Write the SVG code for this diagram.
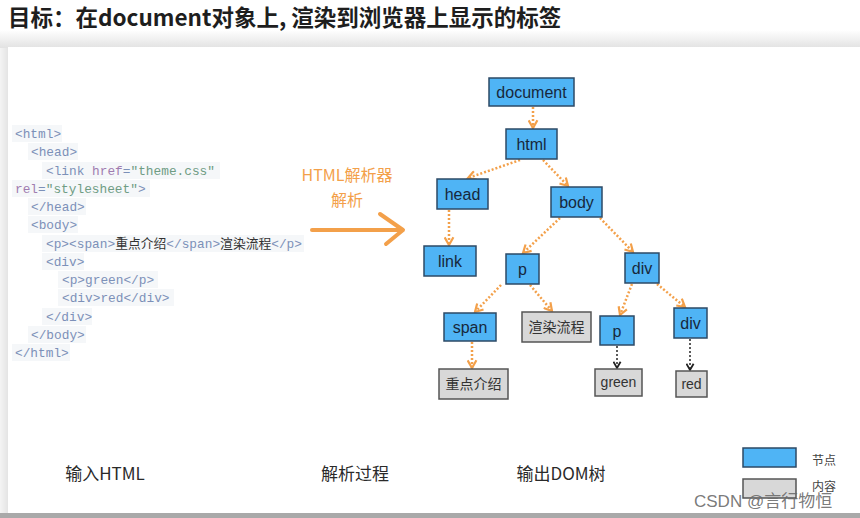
<svg xmlns="http://www.w3.org/2000/svg" width="860" height="518" viewBox="0 0 860 518">
<defs>
<linearGradient id="topShade" x1="0" y1="0" x2="0" y2="1">
<stop offset="0" stop-color="#ffffff"/>
<stop offset="1" stop-color="#e2e2e2"/>
</linearGradient>
<linearGradient id="leftShade" x1="0" y1="0" x2="1" y2="0">
<stop offset="0" stop-color="#f4f4f4"/>
<stop offset="1" stop-color="#e4e4e4"/>
</linearGradient>
<marker id="arrO" viewBox="0 0 10 10" refX="8" refY="5" markerWidth="11" markerHeight="11" markerUnits="userSpaceOnUse" orient="auto">
<path d="M1,1 L8,5 L1,9" fill="none" stroke="#f3a04a" stroke-width="2"/>
</marker>
<marker id="arrK" viewBox="0 0 10 10" refX="8" refY="5" markerWidth="9" markerHeight="9" markerUnits="userSpaceOnUse" orient="auto">
<path d="M1,1 L8,5 L1,9" fill="none" stroke="#222" stroke-width="2"/>
</marker>
</defs>
<style>
.title{font-family:"Noto Sans CJK SC","Noto Sans",sans-serif;font-weight:bold;font-size:22.5px;fill:#1e1e1e}
.code{font-family:"Liberation Mono","Noto Sans CJK SC",monospace;font-size:12.8px;fill:#7c90b8}
.attr{fill:#a07cb0}
.str{fill:#6f9c84}
.cn{fill:#333;font-family:"Noto Sans CJK SC",sans-serif}
.codebg{fill:#f5f7f9}
.node rect.b{fill:#4fb4f5;stroke:#2d4a66;stroke-width:1.5}
.node rect.g{fill:#d8d8d8;stroke:#555;stroke-width:1.5}
.nt{font-family:"Liberation Sans","Noto Sans CJK SC",sans-serif;font-size:16px;fill:#17283c;text-anchor:middle}
.ct{font-family:"Noto Sans CJK SC",sans-serif;font-size:14px;fill:#333;text-anchor:middle}
.gt{font-family:"Liberation Sans",sans-serif;font-size:14px;fill:#333;text-anchor:middle}
.edge{fill:none;stroke:#f3a04a;stroke-width:2.5;stroke-dasharray:2 2;marker-end:url(#arrO)}
.edgek{fill:none;stroke:#333;stroke-width:1.6;stroke-dasharray:2 2;marker-end:url(#arrK)}
.orange{font-family:"Noto Sans CJK SC",sans-serif;font-size:16px;fill:#f3a04a;text-anchor:middle}
.label{font-family:"Noto Sans CJK SC","Noto Sans",sans-serif;font-size:17px;fill:#2a2a2a;text-anchor:middle}
.leg{font-family:"Noto Sans CJK SC",sans-serif;font-size:12px;fill:#444}
</style>
<rect x="0" y="0" width="860" height="518" fill="#ffffff"/>
<rect x="0" y="30" width="860" height="18" fill="url(#topShade)"/>
<rect x="0" y="48" width="8" height="470" fill="url(#leftShade)"/>
<rect x="0" y="513" width="860" height="5" fill="#a9a9a9"/>
<rect x="8" y="47" width="852" height="466" fill="#ffffff"/>

<text class="title" x="8" y="26">目标：在document对象上, 渲染到浏览器上显示的标签</text>

<g id="code">
<rect class="codebg" x="12" y="125" width="50" height="17"/>
<rect class="codebg" x="28" y="143" width="50" height="17"/>
<rect class="codebg" x="42" y="162" width="178" height="17"/>
<rect class="codebg" x="12" y="180" width="138" height="17"/>
<rect class="codebg" x="28" y="198" width="58" height="17"/>
<rect class="codebg" x="28" y="216" width="50" height="17"/>
<rect class="codebg" x="42" y="235" width="262" height="17"/>
<rect class="codebg" x="42" y="253" width="42" height="17"/>
<rect class="codebg" x="58" y="271" width="100" height="17"/>
<rect class="codebg" x="58" y="289" width="116" height="17"/>
<rect class="codebg" x="42" y="308" width="50" height="17"/>
<rect class="codebg" x="28" y="326" width="58" height="17"/>
<rect class="codebg" x="12" y="344" width="58" height="17"/>
<text class="code" x="15" y="138">&lt;html&gt;</text>
<text class="code" x="31" y="156">&lt;head&gt;</text>
<text class="code" x="46" y="175">&lt;link <tspan class="attr">href</tspan>=<tspan class="str">"theme.css"</tspan></text>
<text class="code" x="15" y="193"><tspan class="attr">rel</tspan>=<tspan class="str">"stylesheet"</tspan>&gt;</text>
<text class="code" x="31" y="211">&lt;/head&gt;</text>
<text class="code" x="31" y="229">&lt;body&gt;</text>
<text class="code" x="46" y="248">&lt;p&gt;&lt;span&gt;<tspan class="cn">重点介绍</tspan>&lt;/span&gt;<tspan class="cn">渲染流程</tspan>&lt;/p&gt;</text>
<text class="code" x="46" y="266">&lt;div&gt;</text>
<text class="code" x="62" y="284">&lt;p&gt;green&lt;/p&gt;</text>
<text class="code" x="62" y="302">&lt;div&gt;red&lt;/div&gt;</text>
<text class="code" x="46" y="321">&lt;/div&gt;</text>
<text class="code" x="31" y="339">&lt;/body&gt;</text>
<text class="code" x="15" y="357">&lt;/html&gt;</text>
</g>

<g id="parser">
<text class="orange" x="347" y="181">HTML解析器</text>
<text class="orange" x="347" y="206">解析</text>
<path d="M312,230 L402,230 M380,214 L403,230 L386,244" fill="none" stroke="#f3a04a" stroke-width="4" stroke-linecap="round" stroke-linejoin="round"/>
</g>

<g id="connectors">
<path class="edge" d="M533,107 L533,128"/>
<path class="edge" d="M520,160 L468,178"/>
<path class="edge" d="M543,160 L568,186"/>
<path class="edge" d="M449,210 L449,245"/>
<path class="edge" d="M560,218 L523,253"/>
<path class="edge" d="M600,218 L633,252"/>
<path class="edge" d="M501,285 L475,312"/>
<path class="edge" d="M530,285 L552,311"/>
<path class="edge" d="M632,284 L620,315"/>
<path class="edge" d="M657,284 L685,307"/>
<path class="edge" d="M472,342 L472,368"/>
<path class="edgek" d="M617,346 L617,368"/>
<path class="edgek" d="M690,339 L690,370"/>
</g>

<g id="n-document" class="node"><rect class="b" x="489" y="78" width="85" height="28"/><text class="nt" x="531.5" y="98">document</text></g>
<g id="n-html" class="node"><rect class="b" x="506" y="129" width="51" height="30"/><text class="nt" x="531.5" y="150">html</text></g>
<g id="n-head" class="node"><rect class="b" x="437" y="179" width="51" height="30"/><text class="nt" x="462.5" y="200">head</text></g>
<g id="n-body" class="node"><rect class="b" x="551" y="187" width="51" height="30"/><text class="nt" x="576.5" y="208">body</text></g>
<g id="n-link" class="node"><rect class="b" x="424" y="246" width="52" height="30"/><text class="nt" x="450" y="267">link</text></g>
<g id="n-p" class="node"><rect class="b" x="506" y="254" width="33" height="30"/><text class="nt" x="522.5" y="275">p</text></g>
<g id="n-div" class="node"><rect class="b" x="625" y="253" width="34" height="30"/><text class="nt" x="642" y="274">div</text></g>
<g id="n-span" class="node"><rect class="b" x="444" y="313" width="52" height="28"/><text class="nt" x="470" y="333">span</text></g>
<g id="n-render" class="node"><rect class="g" x="522" y="312" width="69" height="30"/><text class="ct" x="556.5" y="332">渲染流程</text></g>
<g id="n-p2" class="node"><rect class="b" x="600" y="316" width="34" height="29"/><text class="nt" x="617" y="337">p</text></g>
<g id="n-div2" class="node"><rect class="b" x="674" y="308" width="33" height="30"/><text class="nt" x="690.5" y="329">div</text></g>
<g id="n-intro" class="node"><rect class="g" x="439" y="369" width="69" height="30"/><text class="ct" x="473.5" y="389">重点介绍</text></g>
<g id="n-green" class="node"><rect class="g" x="595" y="369" width="47" height="27"/><text class="gt" x="618.5" y="387">green</text></g>
<g id="n-red" class="node"><rect class="g" x="676" y="371" width="31" height="26"/><text class="gt" x="691.5" y="389">red</text></g>

<g id="labels">
<text class="label" x="105" y="480">输入HTML</text>
<text class="label" x="355" y="480">解析过程</text>
<text class="label" x="561" y="480">输出DOM树</text>
</g>

<g id="legend">
<rect x="743" y="448" width="53" height="19" fill="#4fb4f5" stroke="#2d4a66" stroke-width="1.5"/>
<text class="leg" x="812" y="465">节点</text>
<rect x="743" y="479" width="53" height="19" fill="#d8d8d8" stroke="#555" stroke-width="1.5"/>
<text class="leg" x="812" y="491">内容</text>
</g>

<text x="694" y="507" font-family="'Liberation Sans','Noto Sans CJK SC',sans-serif" font-size="17" fill="#6a6a6a" fill-opacity="0.9">CSDN @言行物恒</text>
</svg>
